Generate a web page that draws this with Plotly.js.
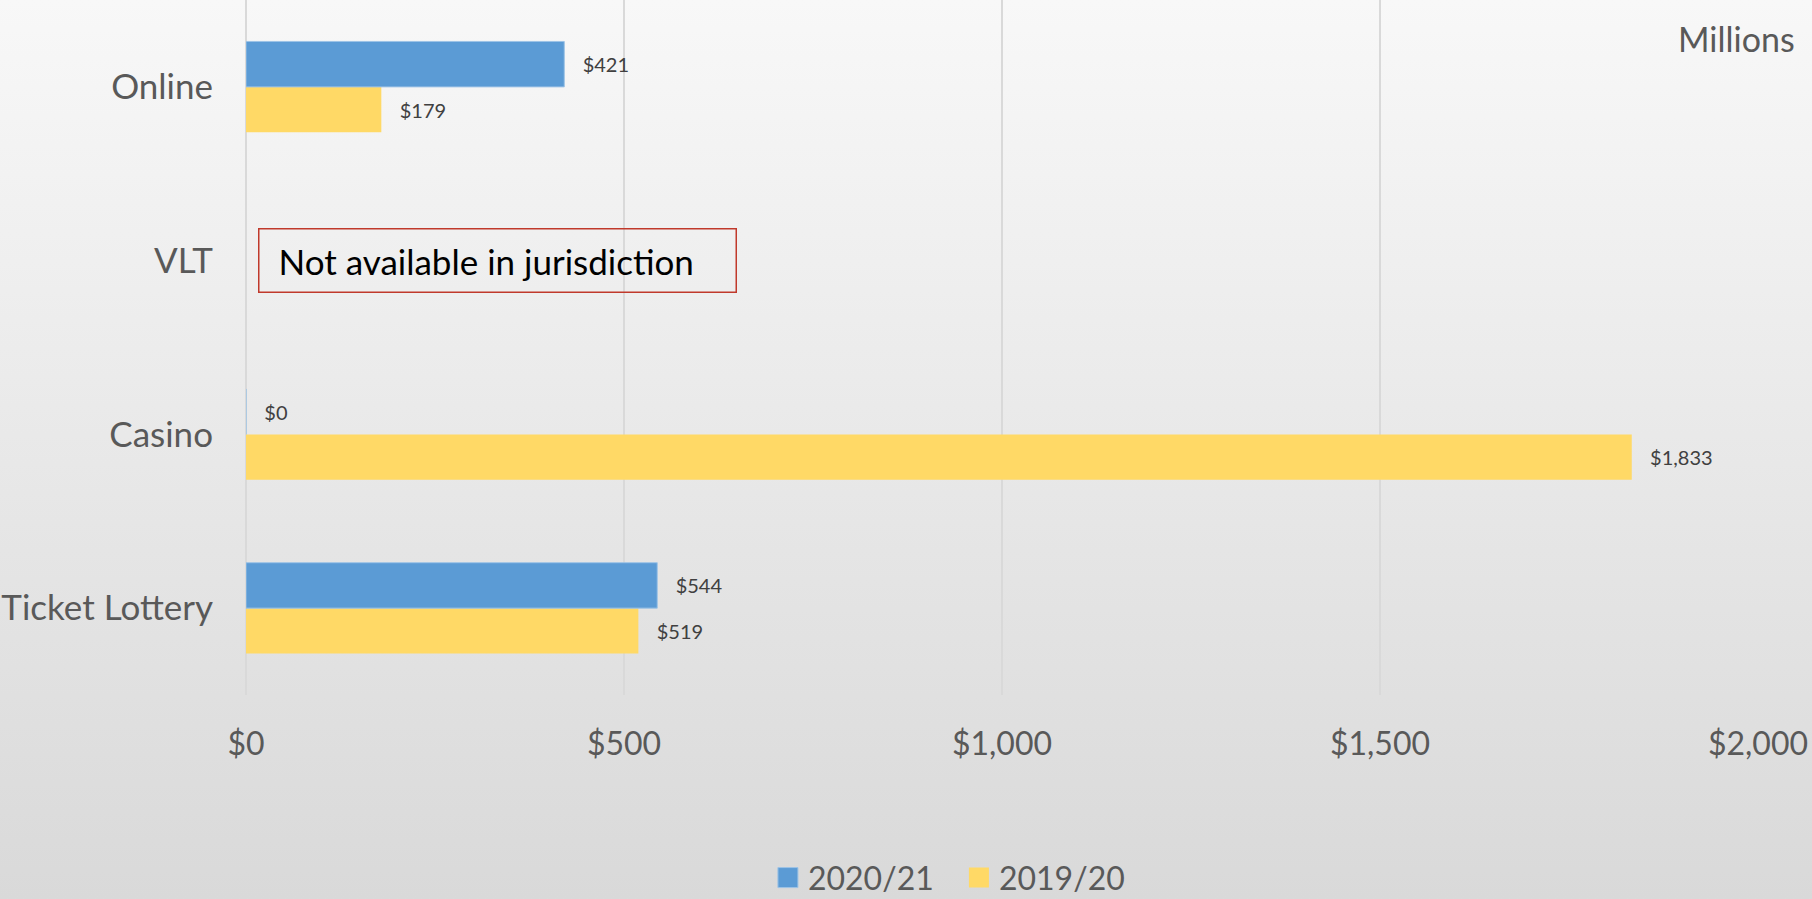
<!DOCTYPE html>
<html>
<head>
<meta charset="utf-8">
<script src="https://cdn.plot.ly/plotly-3.0.1.min.js"></script>
<style>
  html, body { margin: 0; padding: 0; }
  body { width: 1812px; height: 899px; overflow: hidden;
         background: linear-gradient(to bottom, #f8f8f8 0%, #d9d9d9 100%); }
  #chart { width: 1812px; height: 899px; }
</style>
</head>
<body>
<div id="chart"></div>
<script>
// Data (bottom to top on the category axis)
const categories = ['Ticket Lottery', 'Casino', 'VLT', 'Online'];
const values2021 = [544, 0, null, 421];
const values1920 = [519, 1833, null, 179];
const seriesNames = ['2020/21', '2019/20'];
const xTickValues = [0, 500, 1000, 1500, 2000];
const xTickText = xTickValues.map(v => '$' + v.toLocaleString('en-US'));
const noteText = '\u00a0Not available in jurisdiction';
const unitText = 'Millions';

const FONT = 'Lato, "Open Sans", sans-serif';
const PAD = '\u00a0\u00a0\u00a0';

const traces = [
  {
    type: 'bar', orientation: 'h', name: seriesNames[1],
    y: categories, x: values1920,
    marker: { color: '#ffd966' },
    texttemplate: PAD + '$%{x:,}', textposition: 'outside',
    textfont: { family: FONT, size: 20, color: '#404040' },
    cliponaxis: false, hoverinfo: 'skip'
  },
  {
    type: 'bar', orientation: 'h', name: seriesNames[0],
    y: categories, x: values2021,
    marker: { color: '#5b9bd5', line: { color: '#9dc3e6', width: 1 } },
    texttemplate: PAD + '$%{x:,}', textposition: 'outside',
    textfont: { family: FONT, size: 20, color: '#404040' },
    cliponaxis: false, hoverinfo: 'skip'
  }
];

const layout = {
  width: 1812, height: 899,
  paper_bgcolor: 'rgba(0,0,0,0)', plot_bgcolor: 'rgba(0,0,0,0)',
  margin: { l: 246, r: 54, t: 0, b: 204, autoexpand: false },
  font: { family: FONT, color: '#595959' },
  barmode: 'group', bargap: 0.477, bargroupgap: 0,
  showlegend: true,
  legend: {
    orientation: 'h', traceorder: 'reversed',
    xref: 'container', yref: 'paper',
    x: 0.4238, xanchor: 'left', y: -0.263, yanchor: 'middle',
    entrywidth: 146,
    font: { family: FONT, size: 32, color: '#595959' },
    bgcolor: 'rgba(0,0,0,0)'
  },
  xaxis: {
    range: [0, 2000], tickmode: 'array', tickvals: xTickValues, ticktext: xTickText,
    showgrid: true, gridcolor: '#d9d9d9', gridwidth: 1.5,
    zeroline: true, zerolinecolor: '#d9d9d9', zerolinewidth: 1.5,
    showline: false, ticks: '', ticklabelstandoff: 27,
    tickfont: { family: FONT, size: 32, color: '#595959' },
    fixedrange: true
  },
  yaxis: {
    type: 'category', categoryorder: 'array', categoryarray: categories,
    showgrid: false, zeroline: false, showline: false, ticks: '',
    ticklabelstandoff: 32,
    tickfont: { family: FONT, size: 35, color: '#595959' },
    fixedrange: true
  },
  annotations: [
    {
      text: noteText, xref: 'x', yref: 'y', x: 16, y: 'VLT',
      xanchor: 'left', yanchor: 'middle', showarrow: false,
      width: 456, align: 'left', borderpad: 10,
      bordercolor: '#c0392b', borderwidth: 1.5, bgcolor: 'rgba(0,0,0,0)',
      font: { family: FONT, size: 35, color: '#000000' }
    },
    {
      text: unitText, xref: 'paper', yref: 'paper', x: 1.026, y: 0.945,
      xanchor: 'right', yanchor: 'middle', showarrow: false,
      font: { family: FONT, size: 34, color: '#595959' }
    }
  ]
};

Plotly.newPlot('chart', traces, layout, { displayModeBar: false, staticPlot: true })
  .then(() => {
    // enlarge legend swatches to match the reference's square markers
    document.querySelectorAll('.legend .legendpoints path').forEach(p => {
      p.setAttribute('d', 'M10,10H-10V-10H10Z');
    });
  });
</script>
</body>
</html>
